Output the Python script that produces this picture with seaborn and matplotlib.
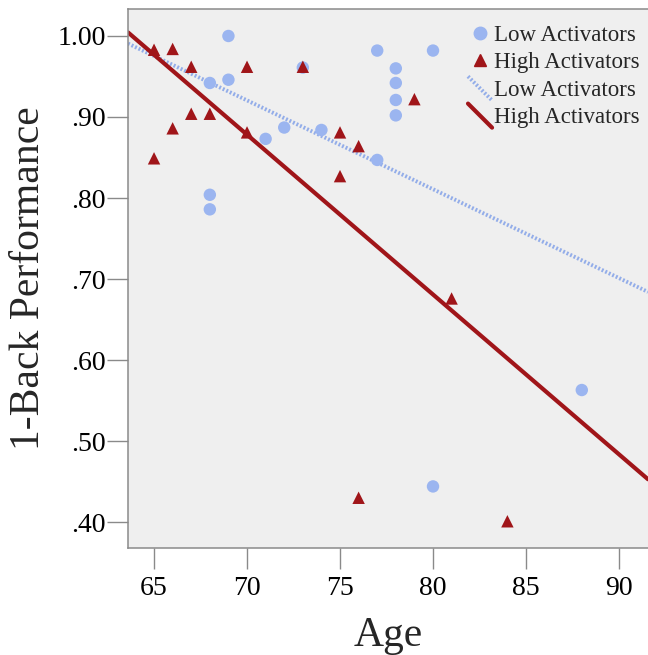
import pandas as pd
import matplotlib
matplotlib.use('Agg')
import matplotlib.pyplot as plt
import seaborn as sns
from matplotlib.lines import Line2D
from matplotlib.legend_handler import HandlerLine2D

# values
low_age = [69, 77, 68, 69, 73, 72, 71, 74, 77, 68, 68, 80, 78, 78, 78, 78, 88, 80]
low_perf = [1.00, .982, .942, .946, .961, .887, .873, .884, .847, .804, .786,
            .982, .960, .942, .921, .902, .563, .444]
high_age = [65, 66, 67, 70, 73, 67, 68, 66, 65, 70, 75, 76, 75, 79, 81, 76, 84]
high_perf = [.983, .984, .962, .962, .962, .904, .904, .886, .849, .881, .881,
             .864, .827, .922, .676, .430, .401]
groups = ['Low Activators', 'High Activators']
x_ticks = [65, 70, 75, 80, 85, 90]
y_ticks = [.40, .50, .60, .70, .80, .90, 1.00]
y_tick_labels = ['.40', '.50', '.60', '.70', '.80', '.90', '1.00']

blue = '#9bb5f0'
blue_line = '#93ade9'
red = '#a01519'
grey = '#8a8a8a'

sns.set_style('ticks')
plt.rcParams['font.family'] = ['Liberation Serif', 'DejaVu Serif']

df = pd.concat([
    pd.DataFrame({'Age': low_age, 'Perf': low_perf, 'Group': groups[0]}),
    pd.DataFrame({'Age': high_age, 'Perf': high_perf, 'Group': groups[1]}),
], ignore_index=True)

fig = plt.figure(figsize=(6.48, 6.55), dpi=100)
ax = fig.add_axes([128 / 648, 107 / 655, 1 - 128 / 648, 539 / 655])
ax.set_facecolor('#efefef')
ax.set_xlim(63.6, 91.56)
ax.set_ylim(0.368, 1.0333)

# fit lines over the full x range
sns.regplot(data=df[df.Group == groups[0]], x='Age', y='Perf', scatter=False,
            ci=None, truncate=False, ax=ax,
            line_kws=dict(color=blue_line, lw=2.8, ls=(0, (0.5, 0.5)), zorder=2))
sns.regplot(data=df[df.Group == groups[1]], x='Age', y='Perf', scatter=False,
            ci=None, truncate=False, ax=ax,
            line_kws=dict(color=red, lw=3.0, zorder=2))

sns.scatterplot(data=df, x='Age', y='Perf', hue='Group', style='Group',
                palette={groups[0]: blue, groups[1]: red},
                markers={groups[0]: 'o', groups[1]: '^'},
                s=80, linewidth=0, legend=False, ax=ax, zorder=3)
ax.set_xlim(63.6, 91.56)
ax.set_ylim(0.368, 1.0333)

ax.set_xticks(x_ticks)
ax.set_yticks(y_ticks)
ax.set_yticklabels(y_tick_labels)
ax.tick_params(axis='both', labelsize=20, colors=grey, labelcolor='black',
               length=15, width=1.0, direction='out')
ax.tick_params(axis='y', pad=1)
ax.tick_params(axis='x', pad=5)
ax.set_xlabel('Age', fontsize=30, labelpad=11)
ax.set_ylabel('1-Back Performance', fontsize=30, labelpad=7)

for side in ['left', 'bottom', 'top']:
    ax.spines[side].set_color(grey)
    ax.spines[side].set_linewidth(1.1)
ax.spines['right'].set_visible(False)


class DiagHandler(HandlerLine2D):
    def create_artists(self, legend, orig_handle, xdescent, ydescent,
                       width, height, fontsize, trans):
        line = Line2D([-xdescent, -xdescent + width],
                      [-ydescent + height * 1.2, -ydescent - height * 0.3])
        self.update_prop(line, orig_handle, legend)
        line.set_transform(trans)
        return [line]


h_low_pt = Line2D([], [], ls='none', marker='o', color=blue, markersize=9)
h_high_pt = Line2D([], [], ls='none', marker='^', color=red, markersize=9)
h_low_ln = Line2D([], [], color=blue_line, lw=2.8, ls=(0, (0.5, 0.5)))
h_high_ln = Line2D([], [], color=red, lw=3.0)
ax.legend([h_low_pt, h_high_pt, h_low_ln, h_high_ln], groups + groups,
          loc='upper right', bbox_to_anchor=(1.0, 0.985), frameon=False,
          fontsize=16.5, handlelength=1.05, handletextpad=0.1,
          labelspacing=0.27, borderaxespad=0.0, borderpad=0.35,
          handler_map={h_low_ln: DiagHandler(), h_high_ln: DiagHandler()})

fig.savefig('out.png', dpi=100)
